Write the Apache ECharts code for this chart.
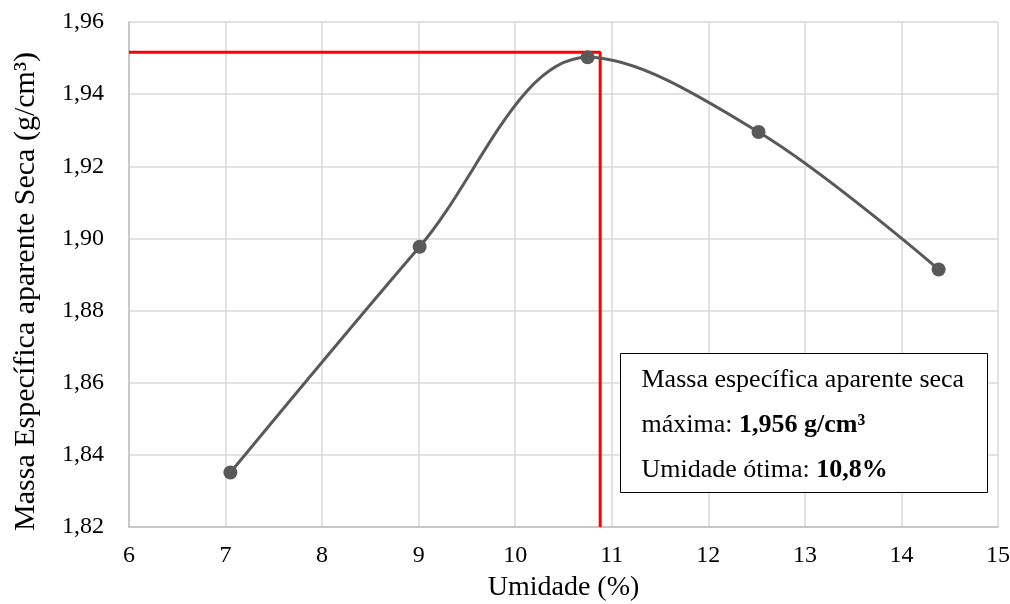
<!DOCTYPE html>
<html>
<head>
<meta charset="utf-8">
<script src="https://cdn.jsdelivr.net/npm/echarts@6/dist/echarts.min.js"></script>
<style>
  html, body { margin: 0; padding: 0; background: #fff; }
  #chart { width: 1010px; height: 604px; }
</style>
</head>
<body>
<div id="chart"></div>
<script>
// pontos do ensaio de compactação
var umidade = [7.05, 9.01, 10.75, 12.52, 14.385];
var massa = [1.8351, 1.8977, 1.9502, 1.9295, 1.8914];
// ponto ótimo (linhas vermelhas)
var otimoX = 10.88;
var otimoY = 1.9516;
var eixoX = { min: 6, max: 15, step: 1 };
var eixoY = { min: 1.82, max: 1.96, step: 0.02 };

var fonte = 'Liberation Serif';
var chart = echarts.init(document.getElementById('chart'));

var pontos = [];
for (var i = 0; i < umidade.length; i++) {
    pontos.push([umidade[i], massa[i]]);
}

var rotulo = {
    n: { fontFamily: fonte, fontSize: 26, fill: '#000' },
    b: { fontFamily: fonte, fontSize: 26, fontWeight: 'bold', fill: '#000' }
};

var option = {
    animation: false,
    textStyle: { fontFamily: fonte },
    grid: { left: 129, right: 12, top: 22, bottom: 77, containLabel: false, outerBoundsMode: 'none' },
    xAxis: {
        type: 'value',
        min: eixoX.min, max: eixoX.max, interval: eixoX.step,
        name: 'Umidade (%)',
        nameLocation: 'middle',
        nameGap: 47,
        nameTextStyle: { fontFamily: fonte, fontSize: 28, color: '#000' },
        axisLine: { show: true, lineStyle: { color: '#bfbfbf', width: 1.5 } },
        axisTick: { show: false },
        axisLabel: { fontFamily: fonte, fontSize: 24, color: '#000', margin: 17 },
        splitLine: { show: true, lineStyle: { color: '#d9d9d9', width: 1.5 } }
    },
    yAxis: {
        type: 'value',
        min: eixoY.min, max: eixoY.max, interval: eixoY.step,
        name: 'Massa Específica aparente Seca (g/cm³)',
        nameLocation: 'middle',
        nameGap: 88,
        nameTextStyle: { fontFamily: fonte, fontSize: 30, color: '#000', padding: [0, 34, 0, 0] },
        axisLine: { show: true, lineStyle: { color: '#bfbfbf', width: 1.5 } },
        axisTick: { show: false },
        axisLabel: {
            fontFamily: fonte, fontSize: 24, color: '#000', margin: 25,
            formatter: function (v) { return v.toFixed(2).replace('.', ','); }
        },
        splitLine: { show: true, lineStyle: { color: '#d9d9d9', width: 1.5 } }
    },
    series: [
        {
            type: 'line',
            data: [[eixoX.min, otimoY], [otimoX, otimoY], [otimoX, eixoY.min]],
            showSymbol: false,
            lineStyle: { color: '#ff0000', width: 3 },
            z: 1
        },
        {
            type: 'line',
            data: pontos,
            smooth: 0.35,
            symbol: 'circle',
            symbolSize: 14,
            itemStyle: { color: '#595959' },
            lineStyle: { color: '#595959', width: 3 },
            z: 2
        }
    ],
    graphic: [{
        type: 'group',
        left: 620,
        top: 353,
        z: 100,
        children: [
            {
                type: 'rect', z: 100,
                shape: { x: 0, y: 0, width: 367, height: 139 },
                style: { fill: '#fff', stroke: '#000', lineWidth: 1 }
            },
            {
                type: 'text', x: 21, y: 27, z: 101,
                style: { text: 'Massa específica aparente seca', font: '26px "Liberation Serif"', fill: '#000', verticalAlign: 'middle' }
            },
            {
                type: 'text', x: 21, y: 72, z: 101,
                style: { text: '{n|máxima: }{b|1,956 g/cm³}', verticalAlign: 'middle', rich: rotulo }
            },
            {
                type: 'text', x: 21, y: 117, z: 101,
                style: { text: '{n|Umidade ótima: }{b|10,8%}', verticalAlign: 'middle', rich: rotulo }
            }
        ]
    }]
};

chart.setOption(option);
</script>
</body>
</html>
